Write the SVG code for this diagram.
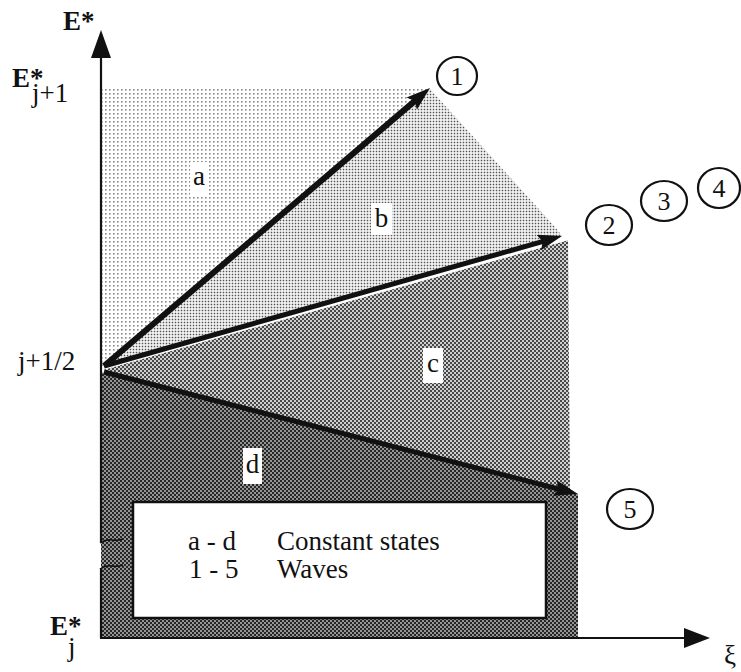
<svg xmlns="http://www.w3.org/2000/svg" width="741" height="672" viewBox="0 0 741 672">
  <style>
    .t { font-family: "Liberation Serif", "Times New Roman", serif; fill: #111; }
    .lbl { font-size: 27px; }
    .num { font-size: 26px; text-anchor: middle; }
    .bold { font-weight: bold; }
    .reg { font-weight: normal; }
    .circ { fill: none; stroke: #111; stroke-width: 2.2; }
    .arrow { stroke: #111; fill: none; }
    .lblbox { fill: #fff; }
  </style>
  <defs>
    <pattern id="pa" width="4" height="4" patternUnits="userSpaceOnUse">
      <rect width="4" height="4" fill="#fff"/>
      <rect x="1" y="1" width="1.6" height="1.6" fill="#8a8a8a"/>
    </pattern>
    <pattern id="pb" width="3" height="3" patternUnits="userSpaceOnUse">
      <rect width="3" height="3" fill="#fff"/>
      <rect x="0.7" y="0.7" width="1.6" height="1.6" fill="#555"/>
    </pattern>
    <pattern id="pc" width="4" height="4" patternUnits="userSpaceOnUse">
      <rect width="4" height="4" fill="#cfcfcf"/>
      <rect x="0" y="0" width="2" height="2" fill="#474747"/>
      <rect x="2" y="2" width="2" height="2" fill="#474747"/>
    </pattern>
    <pattern id="pd" width="4" height="4" patternUnits="userSpaceOnUse">
      <rect width="4" height="4" fill="#959595"/>
      <rect x="0" y="0" width="2" height="2" fill="#262626"/>
      <rect x="2" y="2" width="2" height="2" fill="#262626"/>
    </pattern>
    <marker id="head" viewBox="0 0 24 16" refX="10" refY="8" markerWidth="24" markerHeight="16" markerUnits="userSpaceOnUse" orient="auto">
      <path d="M0,0 L24,8 L0,16 L4,8 Z" fill="#111"/>
    </marker>
  </defs>

  <!-- shaded regions (constant states) -->
  <g id="region-a"><polygon points="101,89 430,89 104,366 101,366" fill="url(#pa)"/></g>
  <g id="region-b"><polygon points="430,89 556,228 562,236 104,366" fill="url(#pb)"/></g>
  <g id="region-c"><polygon points="104,369 568,240 570,492 104,373" fill="url(#pc)"/></g>
  <g id="region-d"><polygon points="101,372 578,494 578,638 101,638" fill="url(#pd)"/></g>

  <!-- region labels -->
  <g id="label-a"><rect class="lblbox" x="190" y="162" width="18" height="33"/><text class="t lbl" x="199" y="185" text-anchor="middle">a</text></g>
  <g id="label-b"><rect class="lblbox" x="371" y="203" width="21" height="32"/><text class="t lbl" x="381.5" y="227" text-anchor="middle">b</text></g>
  <g id="label-c"><rect class="lblbox" x="423" y="348" width="20" height="35"/><text class="t lbl" x="433" y="372" text-anchor="middle">c</text></g>
  <g id="label-d"><rect class="lblbox" x="243" y="448" width="19" height="36"/><text class="t lbl" x="252.5" y="473" text-anchor="middle">d</text></g>

  <!-- legend box -->
  <g id="legend">
    <rect x="133" y="502" width="413" height="116" fill="#fff" stroke="#111" stroke-width="2.5"/>
    <text class="t lbl" x="188" y="550">a - d</text>
    <text class="t lbl" x="277" y="550">Constant states</text>
    <text class="t lbl" x="189" y="578">1 - 5</text>
    <text class="t lbl" x="277" y="578">Waves</text>
  </g>

  <!-- connectors: axes and waves -->
  <g id="connectors">
    <line x1="101" y1="55" x2="101" y2="542" stroke="#111" stroke-width="2.2"/>
    <line x1="101" y1="568" x2="101" y2="638" stroke="#111" stroke-width="2.2"/>
    <polygon points="91,58 101,30 111,58" fill="#111"/>
    <path d="M100,543 q6,-4 12,-3 q6,1 11,-1" fill="none" stroke="#111" stroke-width="1.5"/>
    <path d="M100,569 q6,-4 12,-3 q6,1 11,-1" fill="none" stroke="#111" stroke-width="1.5"/>
    <line x1="100" y1="638" x2="688" y2="638" stroke="#111" stroke-width="2.2"/>
    <polygon points="684,628 710,638 684,648" fill="#111"/>
    <line x1="104" y1="369" x2="566" y2="240" stroke="#fff" stroke-width="1.5"/>
    <line class="arrow" x1="104" y1="366" x2="419.3" y2="97.1" stroke-width="6" marker-end="url(#head)"/>
    <line class="arrow" x1="104" y1="366" x2="548.5" y2="239.8" stroke-width="5" marker-end="url(#head)"/>
    <line class="arrow" x1="104" y1="372" x2="564.4" y2="490.5" stroke-width="5" marker-end="url(#head)"/>
  </g>

  <!-- wave numbers -->
  <g id="wave-1"><ellipse class="circ" cx="457" cy="76" rx="20" ry="19"/><text class="t num" x="457" y="85">1</text></g>
  <g id="wave-2"><ellipse class="circ" cx="609" cy="225" rx="23" ry="20"/><text class="t num" x="609" y="234">2</text></g>
  <g id="wave-3"><ellipse class="circ" cx="664" cy="201" rx="23" ry="20"/><text class="t num" x="664" y="210">3</text></g>
  <g id="wave-4"><ellipse class="circ" cx="719" cy="188" rx="21" ry="20"/><text class="t num" x="719" y="197">4</text></g>
  <g id="wave-5"><ellipse class="circ" cx="630" cy="509" rx="23" ry="20"/><text class="t num" x="630" y="518">5</text></g>

  <!-- axis labels -->
  <g id="axis-labels">
    <text class="t lbl bold" x="63" y="30">E*</text>
    <text class="t lbl bold" x="12" y="87">E*<tspan class="reg" x="32" dy="15">j+1</tspan></text>
    <text class="t lbl" x="18" y="370">j+1/2</text>
    <text class="t lbl bold" x="50" y="635">E*<tspan class="reg" x="68" dy="21">j</tspan></text>
    <text class="t lbl" x="724" y="664">ξ</text>
  </g>
</svg>
